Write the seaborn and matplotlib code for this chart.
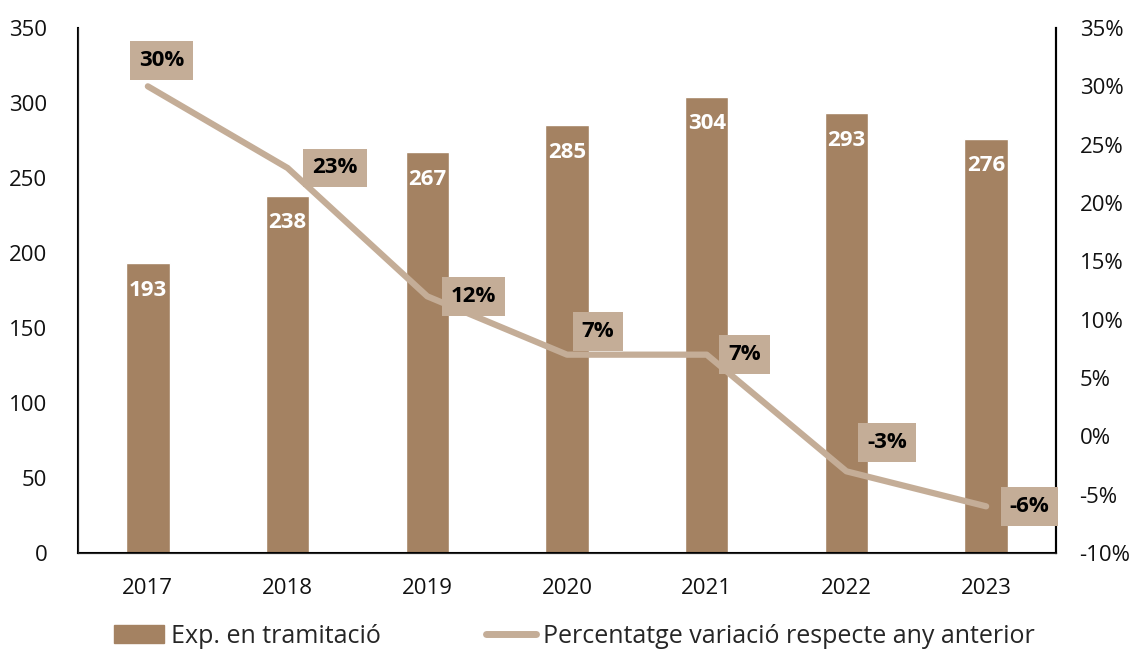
import pandas as pd
import seaborn as sns
import matplotlib.pyplot as plt
from matplotlib.patches import Patch
from matplotlib.lines import Line2D

years = ['2017', '2018', '2019', '2020', '2021', '2022', '2023']
expedients = [193, 238, 267, 285, 304, 293, 276]
variacio = [30, 23, 12, 7, 7, -3, -6]

bar_color = '#A48262'
line_color = '#C4AD97'

sns.set_style('white')
plt.rcParams['font.family'] = ['Open Sans', 'DejaVu Sans']

df = pd.DataFrame({'any': years, 'exp': expedients, 'var': variacio})

fig = plt.figure(figsize=(11.36, 6.49), dpi=100)
ax = fig.add_axes([78 / 1136, 1 - 553 / 649, 978 / 1136, 525 / 649])

sns.barplot(data=df, x='any', y='exp', color=bar_color, width=0.31,
            saturation=1, ax=ax)
ax.set_ylim(0, 350)
ax.set_xlim(-0.5, 6.5)
ax.set_yticks(range(0, 351, 50))
ax.set_xlabel('')
ax.set_ylabel('')
ax.tick_params(axis='both', length=0, labelsize=16, colors='#111111')
ax.tick_params(axis='y', pad=22)
ax.tick_params(axis='x', pad=18)
ax.spines['top'].set_visible(False)
for s in ['left', 'bottom', 'right']:
    ax.spines[s].set_color('black')
    ax.spines[s].set_linewidth(1.5)

for i, v in enumerate(expedients):
    ax.text(i, v - 18, str(v), ha='center', va='center', color='white',
            fontsize=16, fontweight='bold')

ax2 = ax.twinx()
ax2.set_position(ax.get_position())
sns.lineplot(x=list(range(len(years))), y=variacio, color=line_color,
             linewidth=4.5, ax=ax2, solid_capstyle='round')
ax2.set_ylim(-10, 35)
ax2.set_yticks(range(-10, 36, 5))
ax2.set_yticklabels([f'{t}%' for t in range(-10, 36, 5)])
ax2.tick_params(axis='y', length=0, labelsize=16, colors='#111111', pad=17)
ax2.spines['top'].set_visible(False)
ax2.spines['right'].set_color('black')
ax2.spines['right'].set_linewidth(1.5)

offsets = [(0.1, 2.2), (0.34, 0.0), (0.33, 0.0), (0.22, 2.0), (0.27, 0.0),
           (0.29, 2.5), (0.31, 0.0)]
for i, (v, (dx, dy)) in enumerate(zip(variacio, offsets)):
    ax2.text(i + dx, v + dy, f'{v}%', ha='center', va='center', color='black',
             fontsize=16, fontweight='bold',
             bbox=dict(boxstyle='square,pad=0.4', fc=line_color, ec='none'))

handles = [Patch(color=bar_color), Line2D([0], [0], color=line_color, lw=5)]
fig.legend(handles, ['Exp. en tramitació', 'Percentatge variació respecte any anterior'],
           loc='lower left', bbox_to_anchor=(91 / 1136, -0.034), ncol=2,
           frameon=False, fontsize=18, handlelength=2.0, handletextpad=0.3,
           columnspacing=4.2)

fig.savefig('out.png', dpi=100)
